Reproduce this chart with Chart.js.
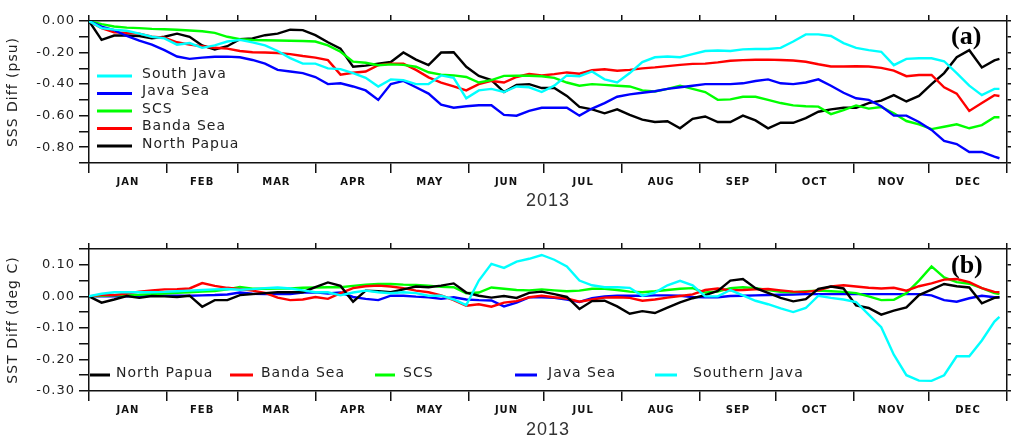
<!DOCTYPE html>
<html>
<head>
<meta charset="utf-8">
<script src="https://cdn.jsdelivr.net/npm/chart.js@4.4.1/dist/chart.umd.min.js"></script>
<style>
  body { margin: 0; background: #fff; }
  #wrap { position: relative; width: 1011px; height: 439px; }
  canvas { position: absolute; left: 0; }
  #sss { top: 0; }
  #sst { top: 220px; }
</style>
</head>
<body>
<div id="wrap">
  <canvas id="sss" width="1011" height="220"></canvas>
  <canvas id="sst" width="1011" height="219"></canvas>
</div>
<script>
// day of year 2013 (0 = 1 Jan)
const days = [0,5,10,15,20,25,30,35,40,45,50,55,60,65,70,75,80,85,90,95,
  100,105,110,115,120,125,130,135,140,145,150,155,160,165,170,175,180,185,190,195,
  200,205,210,215,220,225,230,235,240,245,250,255,260,265,270,275,280,285,290,295,
  300,305,310,315,320,325,330,335,340,345,350,355,360,362];

const monthStarts = [0,31,59,90,120,151,181,212,243,273,304,334,365];
const monthMids = [15.5,45,74.5,105,135.5,166,196.5,227.5,258,288.5,319,349.5];
const monthNames = ['JAN','FEB','MAR','APR','MAY','JUN','JUL','AUG','SEP','OCT','NOV','DEC'];

const sssTicks = [0,-0.1,-0.2,-0.3,-0.4,-0.5,-0.6,-0.7,-0.8,-0.9];
const sstTicks = [0.15,0.1,0.05,0,-0.05,-0.1,-0.15,-0.2,-0.25,-0.3];

// (a) SSS diff (psu)
const sssSouthJava = [0,-0.045,-0.055,-0.062,-0.08,-0.10,-0.11,-0.15,-0.14,-0.17,
  -0.155,-0.13,-0.12,-0.135,-0.155,-0.19,-0.235,-0.27,-0.27,-0.30,
  -0.305,-0.33,-0.36,-0.415,-0.37,-0.375,-0.40,-0.40,-0.345,-0.36,
  -0.49,-0.44,-0.43,-0.45,-0.415,-0.42,-0.45,-0.41,-0.345,-0.35,
  -0.32,-0.37,-0.39,-0.33,-0.26,-0.23,-0.225,-0.23,-0.21,-0.19,
  -0.187,-0.19,-0.18,-0.177,-0.177,-0.17,-0.13,-0.085,-0.085,-0.095,
  -0.14,-0.17,-0.185,-0.195,-0.28,-0.24,-0.236,-0.236,-0.255,-0.33,
  -0.41,-0.47,-0.43,-0.43];
const sssJavaSea = [0,-0.036,-0.058,-0.095,-0.125,-0.15,-0.185,-0.225,-0.24,-0.232,
  -0.227,-0.226,-0.23,-0.247,-0.27,-0.31,-0.32,-0.33,-0.355,-0.40,
  -0.395,-0.415,-0.44,-0.50,-0.40,-0.38,-0.42,-0.46,-0.53,-0.55,
  -0.54,-0.534,-0.534,-0.595,-0.60,-0.57,-0.55,-0.55,-0.55,-0.60,
  -0.555,-0.52,-0.48,-0.465,-0.455,-0.445,-0.43,-0.42,-0.41,-0.40,
  -0.40,-0.40,-0.395,-0.38,-0.37,-0.395,-0.40,-0.39,-0.37,-0.41,
  -0.455,-0.49,-0.50,-0.54,-0.60,-0.60,-0.64,-0.69,-0.76,-0.78,
  -0.83,-0.83,-0.86,-0.87];
const sssSCS = [0,-0.02,-0.035,-0.042,-0.045,-0.05,-0.052,-0.055,-0.06,-0.065,
  -0.075,-0.10,-0.115,-0.12,-0.122,-0.124,-0.125,-0.127,-0.13,-0.155,
  -0.195,-0.258,-0.265,-0.28,-0.275,-0.278,-0.29,-0.325,-0.34,-0.345,
  -0.355,-0.39,-0.375,-0.348,-0.347,-0.347,-0.35,-0.36,-0.39,-0.41,
  -0.40,-0.405,-0.41,-0.415,-0.44,-0.447,-0.43,-0.41,-0.43,-0.45,
  -0.50,-0.497,-0.48,-0.48,-0.50,-0.52,-0.535,-0.54,-0.543,-0.59,
  -0.565,-0.535,-0.555,-0.545,-0.585,-0.634,-0.655,-0.685,-0.67,-0.655,
  -0.68,-0.66,-0.61,-0.61];
const sssBanda = [0,-0.045,-0.072,-0.075,-0.08,-0.10,-0.105,-0.135,-0.15,-0.16,
  -0.17,-0.175,-0.19,-0.198,-0.20,-0.203,-0.21,-0.222,-0.232,-0.248,
  -0.34,-0.328,-0.32,-0.28,-0.27,-0.27,-0.31,-0.357,-0.39,-0.415,
  -0.44,-0.40,-0.38,-0.39,-0.355,-0.336,-0.345,-0.337,-0.326,-0.334,
  -0.312,-0.306,-0.315,-0.31,-0.30,-0.294,-0.286,-0.278,-0.272,-0.27,
  -0.262,-0.252,-0.248,-0.246,-0.245,-0.247,-0.25,-0.258,-0.274,-0.288,
  -0.288,-0.287,-0.288,-0.297,-0.315,-0.35,-0.342,-0.342,-0.42,-0.46,
  -0.57,-0.52,-0.47,-0.475];
const sssPapua = [0,-0.12,-0.092,-0.092,-0.095,-0.11,-0.10,-0.08,-0.10,-0.155,
  -0.18,-0.16,-0.115,-0.11,-0.09,-0.08,-0.055,-0.058,-0.09,-0.135,
  -0.175,-0.29,-0.283,-0.27,-0.26,-0.20,-0.245,-0.28,-0.20,-0.198,
  -0.29,-0.348,-0.375,-0.45,-0.405,-0.40,-0.425,-0.425,-0.475,-0.545,
  -0.56,-0.585,-0.56,-0.595,-0.625,-0.64,-0.635,-0.68,-0.62,-0.605,
  -0.64,-0.64,-0.60,-0.63,-0.68,-0.645,-0.645,-0.615,-0.575,-0.56,
  -0.55,-0.55,-0.52,-0.505,-0.47,-0.51,-0.475,-0.40,-0.33,-0.23,
  -0.185,-0.295,-0.25,-0.24];

// (b) SST diff (deg C)
const sstPapua = [0,-0.02,-0.01,0.001,-0.005,0.001,0,-0.002,0.002,-0.033,
  -0.012,-0.012,0.004,0.007,0.010,0.013,0.013,0.013,0.029,0.044,
  0.033,-0.017,0.018,0.016,0.013,0.022,0.031,0.029,0.034,0.041,
  0.012,0.002,-0.004,0.001,-0.005,0.011,0.015,0.007,-0.002,-0.04,
  -0.015,-0.014,-0.032,-0.055,-0.047,-0.053,-0.036,-0.019,-0.006,0.004,
  0.017,0.05,0.055,0.026,0.011,-0.005,-0.016,-0.009,0.024,0.031,
  0.025,-0.029,-0.037,-0.058,-0.045,-0.035,0.004,0.021,0.039,0.032,
  0.028,-0.022,-0.005,-0.003];
const sstBanda = [0,0.004,0.004,0.009,0.015,0.019,0.022,0.023,0.025,0.042,
  0.033,0.027,0.023,0.018,0.011,-0.004,-0.012,-0.01,-0.002,-0.008,
  0.01,0.026,0.032,0.034,0.031,0.026,0.018,0.013,0.003,-0.012,
  -0.03,-0.025,-0.033,-0.02,-0.015,-0.003,0.002,-0.003,-0.007,-0.017,
  -0.01,-0.004,-0.003,-0.005,-0.014,-0.01,-0.004,0.001,0.006,0.02,
  0.025,0.019,0.02,0.022,0.023,0.019,0.015,0.014,0.019,0.031,
  0.035,0.031,0.027,0.025,0.027,0.018,0.032,0.041,0.053,0.055,
  0.045,0.026,0.014,0.013];
const sstSCS = [0,0.002,0.003,0.004,0.005,0.007,0.009,0.011,0.013,0.015,
  0.017,0.022,0.03,0.024,0.024,0.025,0.025,0.027,0.028,0.029,
  0.029,0.033,0.037,0.039,0.039,0.037,0.036,0.034,0.03,0.029,
  0.01,0.012,0.028,0.024,0.02,0.019,0.022,0.019,0.016,0.018,
  0.024,0.024,0.02,0.015,0.013,0.016,0.02,0.024,0.026,0.012,
  0.015,0.026,0.029,0.026,0.02,0.014,0.013,0.016,0.018,0.016,
  0.014,0.01,0.0,-0.012,-0.011,0.01,0.05,0.095,0.06,0.045,
  0.04,0.026,0.01,0.007];
const sstJavaSea = [0,0,0,0,0.001,0.002,0.002,0.002,0.002,0.003,
  0.004,0.006,0.012,0.008,0.007,0.007,0.007,0.012,0.013,0.009,
  0.012,-0.002,-0.008,-0.012,0.002,0.002,-0.001,-0.003,-0.008,-0.003,
  -0.01,-0.012,-0.013,-0.032,-0.02,-0.003,-0.003,-0.005,-0.01,-0.018,
  -0.006,0,0.002,0.002,0.002,0.003,0.003,0.002,-0.002,-0.003,
  -0.003,0.001,0.002,0.003,0.004,0.005,0.006,0.007,0.007,0.007,
  0.007,0.007,0.007,0.007,0.007,0.007,0.007,0.003,-0.012,-0.017,
  -0.006,0.002,-0.003,-0.003];
const sstSouthernJava = [0,0.008,0.013,0.013,0.013,0.013,0.014,0.016,0.018,0.02,
  0.022,0.023,0.021,0.023,0.026,0.028,0.025,0.019,0.013,0.013,
  0.003,0.012,0.018,0.013,0.01,0.013,0.01,0.002,0.002,-0.01,
  -0.028,0.05,0.103,0.09,0.11,0.119,0.131,0.116,0.095,0.05,
  0.035,0.029,0.029,0.027,0.002,0.012,0.035,0.049,0.035,0.0,
  0.0,0.02,0.003,-0.014,-0.025,-0.038,-0.05,-0.037,0.002,-0.005,
  -0.01,-0.018,-0.058,-0.098,-0.185,-0.25,-0.267,-0.268,-0.25,-0.19,
  -0.19,-0.14,-0.08,-0.065];

const CYAN = '#00ffff', BLUE = '#0000ff', GREEN = '#00ff00', RED = '#ff0000', BLACK = '#000000';
const INK = '#111';
const SANS = "'DejaVu Sans', sans-serif";

// the original plot software spaces its letters out a bit
const spacing = {
  id: 'spacing',
  beforeLayout(chart) { chart.ctx.letterSpacing = '1px'; },
  beforeDraw(chart) { chart.ctx.letterSpacing = '1px'; }
};

// legend drawn inside the plot box, like the original
const boxLegend = {
  id: 'boxLegend',
  afterDatasetsDraw(chart, args, opts) {
    const ctx = chart.ctx, a = chart.chartArea;
    ctx.save();
    ctx.font = '14px ' + SANS;
    ctx.textBaseline = 'middle';
    ctx.textAlign = 'left';
    opts.items.forEach(it => {
      const ds = chart.data.datasets.find(d => d.label === it.label);
      ctx.strokeStyle = ds.borderColor;
      ctx.lineWidth = 3;
      ctx.beginPath();
      ctx.moveTo(a.left + it.x0, a.top + it.y + 2);
      ctx.lineTo(a.left + it.x1, a.top + it.y + 2);
      ctx.stroke();
      ctx.fillStyle = '#222';
      ctx.fillText(it.label, a.left + it.tx, a.top + it.y);
    });
    if (opts.tag) {
      ctx.letterSpacing = '0px';
      ctx.font = "bold 26px 'Liberation Serif', serif";
      ctx.fillStyle = '#000';
      ctx.fillText(opts.tag, a.right - 56, a.top + opts.tagY);
    }
    ctx.restore();
  }
};

const monthTickValues = monthStarts.concat(monthMids).sort((p, q) => p - q);

function makePanel(id, cfg) {
  const canvas = document.getElementById(id);
  const H = canvas.height;
  const yTicks = s => { s.ticks = cfg.ticks.map(v => ({ value: v })); };
  const isMajor = v => Math.abs(Math.round(v * 100) % cfg.major) < 1e-6;
  return new Chart(canvas, {
    type: 'line',
    data: {
      datasets: cfg.series.map(s => ({
        label: s.label,
        data: days.map((d, i) => ({ x: d, y: s.values[i] })),
        borderColor: s.color,
        borderWidth: 2.4,
        pointRadius: 0,
        tension: 0,
        fill: false
      }))
    },
    options: {
      responsive: false,
      animation: false,
      devicePixelRatio: 1,
      layout: { padding: 0 },
      plugins: {
        legend: { display: false },
        tooltip: { enabled: false },
        boxLegend: { items: cfg.legend, tag: cfg.tag, tagY: cfg.tagY }
      },
      scales: {
        x: {
          type: 'linear', position: 'bottom', min: 0, max: 365,
          afterBuildTicks: s => { s.ticks = monthTickValues.map(v => ({ value: v })); },
          afterFit: s => { s.height = H - cfg.bottom; },
          grid: {
            drawOnChartArea: false, drawTicks: true, tickLength: 10, lineWidth: 1.5,
            color: c => (c.tick && monthStarts.includes(c.tick.value)) ? INK : 'rgba(0,0,0,0)'
          },
          border: { display: true, color: INK, width: 1.5 },
          ticks: {
            autoSkip: false, maxRotation: 0, minRotation: 0, padding: 3, color: INK,
            font: { family: SANS, size: 10, weight: 'bold' },
            callback: v => { const i = monthMids.indexOf(v); return i < 0 ? '' : monthNames[i]; }
          },
          title: {
            display: true, text: '2013', color: '#333',
            font: { family: "'Liberation Sans', sans-serif", size: 18, lineHeight: cfg.yearLH },
            padding: { top: 0, bottom: cfg.yearPad }
          }
        },
        xTop: {
          type: 'linear', position: 'top', min: 0, max: 365,
          afterBuildTicks: s => { s.ticks = monthStarts.map(v => ({ value: v })); },
          afterFit: s => { s.height = cfg.top; },
          grid: { drawOnChartArea: false, drawTicks: true, tickLength: 6, lineWidth: 1.5, color: INK },
          border: { display: true, color: INK, width: 1.5 },
          ticks: { display: false, autoSkip: false }
        },
        y: {
          position: 'left', min: cfg.min, max: cfg.max,
          afterBuildTicks: yTicks,
          afterFit: s => { s.width = 89; },
          grid: { drawOnChartArea: false, drawTicks: true, tickLength: 10, lineWidth: 1.5, color: INK },
          border: { display: true, color: INK, width: 1.5 },
          ticks: {
            autoSkip: false, padding: 4, color: '#222',
            font: { family: SANS, size: 13 },
            callback: v => isMajor(v) ? (Math.abs(v) < 1e-9 ? '0.00' : v.toFixed(2)) : ''
          },
          title: {
            display: true, text: cfg.yTitle, color: '#222',
            font: { family: SANS, size: 14 },
            padding: { top: 5, bottom: 0 }
          }
        },
        yRight: {
          position: 'right', min: cfg.min, max: cfg.max,
          afterBuildTicks: yTicks,
          afterFit: s => { s.width = 1011 - 1007; },
          grid: { drawOnChartArea: false, drawTicks: true, tickLength: 5, lineWidth: 1.5, color: INK },
          border: { display: true, color: INK, width: 1.5 },
          ticks: { display: false, autoSkip: false }
        }
      }
    },
    plugins: [spacing, boxLegend]
  });
}

makePanel('sss', {
  top: 21, bottom: 163, min: -0.9, max: 0, ticks: sssTicks, major: 20,
  yTitle: 'SSS Diff (psu)', yearPad: 8, yearLH: 1.2, tag: '(a)', tagY: 16.5,
  series: [
    { label: 'South Java', values: sssSouthJava, color: CYAN },
    { label: 'Java Sea', values: sssJavaSea, color: BLUE },
    { label: 'SCS', values: sssSCS, color: GREEN },
    { label: 'Banda Sea', values: sssBanda, color: RED },
    { label: 'North Papua', values: sssPapua, color: BLACK }
  ],
  legend: [
    { label: 'South Java', x0: 8, x1: 43, tx: 53, y: 53 },
    { label: 'Java Sea', x0: 8, x1: 43, tx: 53, y: 70.5 },
    { label: 'SCS', x0: 8, x1: 43, tx: 53, y: 88 },
    { label: 'Banda Sea', x0: 8, x1: 43, tx: 53, y: 105.5 },
    { label: 'North Papua', x0: 8, x1: 43, tx: 53, y: 123 }
  ]
});

makePanel('sst', {
  top: 29, bottom: 171, min: -0.3, max: 0.15, ticks: sstTicks, major: 10,
  yTitle: 'SST Diff (deg C)', yearPad: 0, yearLH: 1.0, tag: '(b)', tagY: 17,
  series: [
    { label: 'Southern Java', values: sstSouthernJava, color: CYAN },
    { label: 'North Papua', values: sstPapua, color: BLACK },
    { label: 'Banda Sea', values: sstBanda, color: RED },
    { label: 'SCS', values: sstSCS, color: GREEN },
    { label: 'Java Sea', values: sstJavaSea, color: BLUE }
  ],
  legend: [
    { label: 'North Papua', x0: 1, x1: 21, tx: 27, y: 124 },
    { label: 'Banda Sea', x0: 141, x1: 164, tx: 172, y: 124 },
    { label: 'SCS', x0: 286, x1: 306, tx: 314, y: 124 },
    { label: 'Java Sea', x0: 426, x1: 448, tx: 459, y: 124 },
    { label: 'Southern Java', x0: 566, x1: 588, tx: 604, y: 124 }
  ]
});
</script>
</body>
</html>
